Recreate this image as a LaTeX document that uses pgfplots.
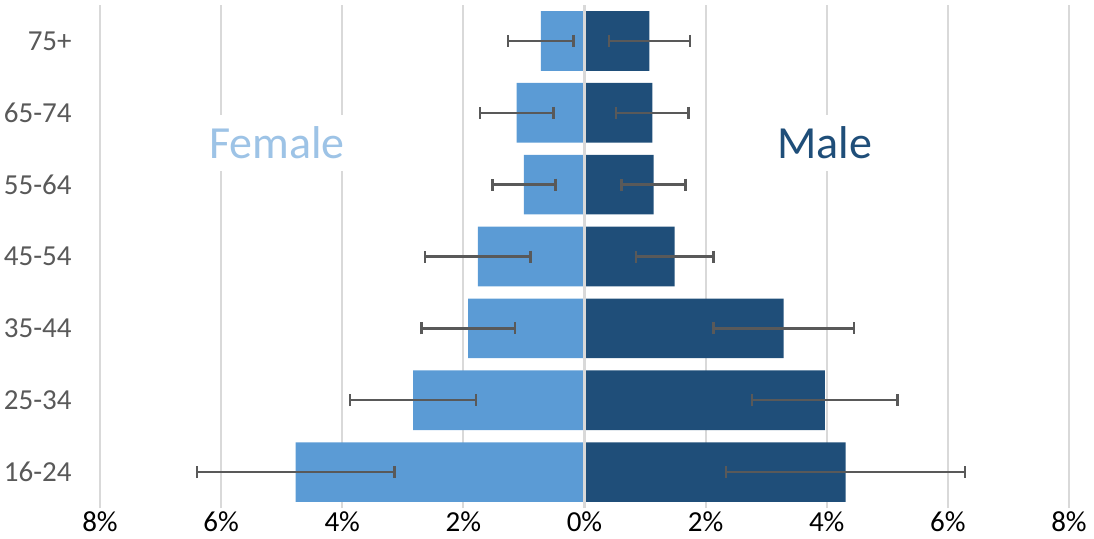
\documentclass[border=0pt]{standalone}
\usepackage{pgfplots}
\pgfplotsset{compat=1.18}
\usepackage{fontspec}
\setmainfont{Carlito}
\definecolor{fem}{HTML}{5B9BD5}
\definecolor{mal}{HTML}{1F4E79}
\definecolor{femtxt}{HTML}{9DC3E6}
\definecolor{gridc}{HTML}{D9D9D9}
\definecolor{errc}{HTML}{595959}
\definecolor{labc}{HTML}{595959}
\begin{document}
\begin{tikzpicture}
\useasboundingbox (-50pt,-15pt) rectangle (497pt,254pt);
\begin{axis}[
  scale only axis, width=484.5pt, height=251.5pt,
  xmin=-8, xmax=8, ymin=-0.5, ymax=6.5,
  xbar, bar width=0.83, bar shift=0pt,
  axis line style={draw=none},
  major tick length=0pt,
  xtick={-8,-6,...,8},
  xticklabels={8\%,6\%,4\%,2\%,0\%,2\%,4\%,6\%,8\%},
  ytick={0,...,6},
  yticklabels={16-24,25-34,35-44,45-54,55-64,65-74,75+},
  xmajorgrids, grid style={draw=gridc, line width=1pt},
  tick label style={font=\fontsize{14.5}{16}\selectfont},
  yticklabel style={text=labc, inner sep=0pt, xshift=-14pt},
  xticklabel style={text=black, inner sep=0pt, yshift=-1.5pt},
]
\addplot[fill=fem, draw=none,
  error bars/.cd, x dir=both, x explicit,
  error bar style={draw=errc, line width=1.2pt},
  error mark=|,
  error mark options={draw=errc, line width=1.2pt, mark size=3pt}]
coordinates {
  (-4.77,0) +- (1.63,0)
  (-2.83,1) +- (1.04,0)
  (-1.92,2) +- (0.77,0)
  (-1.76,3) +- (0.87,0)
  (-1.00,4) +- (0.52,0)
  (-1.12,5) +- (0.61,0)
  (-0.72,6) +- (0.54,0)
};
\addplot[fill=mal, draw=none,
  error bars/.cd, x dir=both, x explicit,
  error bar style={draw=errc, line width=1.2pt},
  error mark=|,
  error mark options={draw=errc, line width=1.2pt, mark size=3pt}]
coordinates {
  (4.31,0) +- (1.97,0)
  (3.97,1) +- (1.20,0)
  (3.29,2) +- (1.16,0)
  (1.49,3) +- (0.64,0)
  (1.14,4) +- (0.53,0)
  (1.12,5) +- (0.60,0)
  (1.07,6) +- (0.67,0)
};
\draw[draw=gridc, line width=1.2pt] (axis cs:0,-0.5) -- (axis cs:0,6.5);
\node[text=femtxt, fill=white, inner sep=6pt, font=\fontsize{23}{26}\selectfont] at (axis cs:-5.08,4.58) {Female};
\node[text=mal, fill=white, inner sep=6pt, font=\fontsize{23}{26}\selectfont] at (axis cs:3.97,4.58) {Male};
\end{axis}
\end{tikzpicture}
\end{document}
